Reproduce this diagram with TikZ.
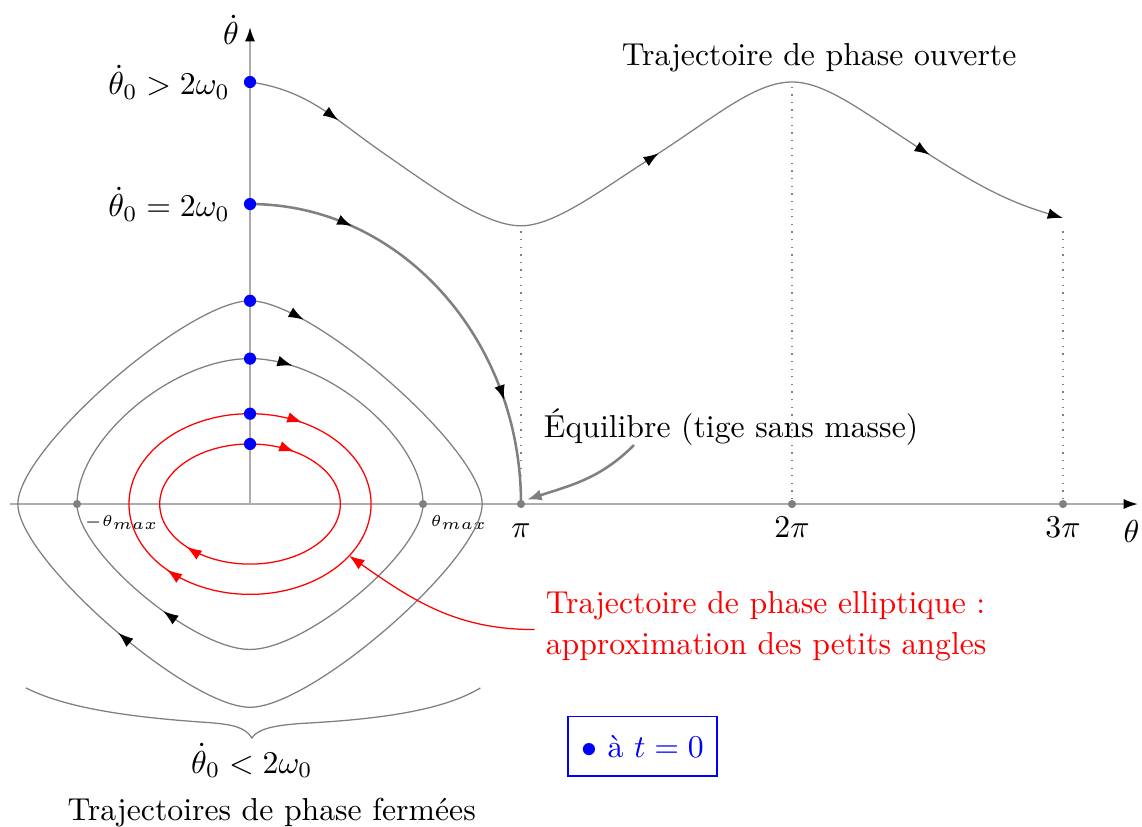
\documentclass[tikz,border=0pt]{standalone}
\usetikzlibrary{arrows.meta,decorations.markings,decorations.pathreplacing,positioning}

\tikzset{
  axe/.style={gray!65, semithick},
  traj/.style={gray, thin},
  separ/.style={gray, thick},
  guide/.style={gray, thin, dotted},
  repere/.style={circle, fill=gray, inner sep=0pt, minimum size=0.9mm},
  cinit/.style={circle, fill=blue, inner sep=0pt, minimum size=1.35mm},
  fleches/.style 2 args={postaction={decorate}, decoration={markings,
      mark=at position #1 with {\arrow{Latex[length=4.8pt,width=3.4pt,color=black]}},
      mark=at position #2 with {\arrow{Latex[length=4.8pt,width=3.4pt,color=black]}}}},
  flechesr/.style 2 args={postaction={decorate}, decoration={markings,
      mark=at position #1 with {\arrow{Latex[length=4.8pt,width=3.4pt]}},
      mark=at position #2 with {\arrow{Latex[length=4.8pt,width=3.4pt]}}}},
}

\begin{document}
\begin{tikzpicture}
	\useasboundingbox (-2.768,-3.565) rectangle (9.875,5.580);

	% axes
	\draw[axe, -{Latex[length=4.5pt,width=3.2pt,color=black]}] (-2.66,0) -- (9.83,0) coordinate (xfin);
	\draw[axe, -{Latex[length=4.5pt,width=3.2pt,color=black]}] (0,0) -- (0,5.28) coordinate (yfin);
	\node[left] (ylab) at (0,5.25) {$\dot\theta$};
	\node[anchor=base] (xlab) at (9.76,-0.43) {$\theta$};

	% reperes sur l'axe des angles
	\node[repere] (mtm) at (-1.915,0) {};
	\node[repere] (tm) at (1.915,0) {};
	\node[repere] (pi) at (3,0) {};
	\node[repere] (dpi) at (6,0) {};
	\node[repere] (tpi) at (9,0) {};
	\node[font=\tiny, anchor=west, inner sep=1.5pt] (lmtm) at (-1.89,-0.2) {$-\theta_{max}$};
	\node[font=\tiny, anchor=west, inner sep=1.5pt] (ltm) at (1.94,-0.2) {$\theta_{max}$};
	\node[anchor=base] (lpi) at (3,-0.37) {$\pi$};
	\node[anchor=base] (ldpi) at (6,-0.37) {$2\pi$};
	\node[anchor=base] (ltpi) at (9,-0.37) {$3\pi$};

	% conditions initiales
	\coordinate (v1) at (0,0.665);
	\coordinate (v2) at (0,1.0);
	\coordinate (v3) at (0,1.61);
	\coordinate (v4) at (0,2.25);
	\coordinate (v5) at (0,3.321);
	\coordinate (v6) at (0,4.672);

	% petits angles
	\draw[red, thin, flechesr={0.095}{0.64}] (v1) arc[start angle=90, end angle=-270, x radius=1, y radius=0.665];
	\draw[red, thin, flechesr={0.08}{0.632}] (v2) arc[start angle=90, end angle=-270, x radius=1.34, y radius=1];

	% trajectoires fermees
	\draw[traj, fleches={0.045}{0.6}] (v3)
		.. controls (0.86,1.61) and (1.915,0.72) .. (1.915,0)
		.. controls (1.915,-0.53) and (0.63,-1.61) .. (0,-1.61)
		.. controls (-0.63,-1.61) and (-1.915,-0.53) .. (-1.915,0)
		.. controls (-1.915,0.72) and (-0.86,1.61) .. (v3);
	\draw[traj, fleches={0.045}{0.62}] (v4)
		.. controls (0.69,2.25) and (2.57,0.61) .. (2.57,0)
		.. controls (2.57,-0.61) and (0.69,-2.25) .. (0,-2.25)
		.. controls (-0.69,-2.25) and (-2.57,-0.61) .. (-2.57,0)
		.. controls (-2.57,0.61) and (-0.69,2.25) .. (v4);

	% separatrice
	\draw[separ, fleches={0.235}{0.765}] (v5) arc[start angle=90, end angle=0, x radius=3, y radius=3.321];

	% trajectoire ouverte
	\draw[traj, -{Latex[length=4.8pt,width=3.4pt,color=black]}, postaction={decorate},
		decoration={markings,
			mark=at position 0.105 with {\arrow{Latex[length=4.8pt,width=3.4pt,color=black]}},
			mark=at position 0.505 with {\arrow{Latex[length=4.8pt,width=3.4pt,color=black]}},
			mark=at position 0.84 with {\arrow{Latex[length=4.8pt,width=3.4pt,color=black]}}}]
		(v6) to[out=-8,in=145.3] (1.47,3.89)
		to[out=-34.7,in=180,in looseness=0.6] (3,3.08) coordinate (m1)
		to[out=0,in=212.4,out looseness=0.6] (4.41,3.81)
		to[out=32.4,in=180,out looseness=1.2,in looseness=0.6] (6,4.672) coordinate (m2)
		to[out=0,in=147.4,out looseness=0.6,in looseness=1.2] (7.44,3.92)
		to[out=-32.6,in=163.4] (9,3.166);
	\coordinate (m3) at (9,3.02);
	\draw[guide] (pi) -- (m1);
	\draw[guide] (dpi) -- (m2);
	\draw[guide] (tpi) -- (m3);

	\foreach \v in {v1,v2,v3,v4,v5,v6}
		\node[cinit] (d\v) at (\v) {};
	\node[left=1mm of v6] (lab6) {$\dot\theta_0 > 2\omega_0$};
	\node[left=1mm of v5] (lab5) {$\dot\theta_0 = 2\omega_0$};
	\node[anchor=base] (ouv) at (6.3,4.86) {Trajectoire de phase ouverte};

	% equilibre
	\node[anchor=west] (equ) at (3.13,0.85) {Équilibre (tige sans masse)};
	\coordinate (equtip) at (3.07,0.05);
	\draw[gray, thick, -{Latex[length=4.5pt,width=3.6pt]}] ([xshift=1.12cm,yshift=1.3mm]equ.south west) to[out=225,in=18] (equtip);

	% approximation elliptique
	\node[red, anchor=west, align=left] (ell) at (3.15,-1.35) {Trajectoire de phase elliptique :\\[1pt]approximation des petits angles};
	\coordinate (elltip) at (-35:1.34cm and 1cm);
	\draw[red, thin, -{Latex[length=4.8pt,width=3.6pt]}] ([yshift=-0.4mm]ell.west) to[out=180,in=-35] (elltip);

	% accolade
	\coordinate (acg) at (-2.48,-2.036);
	\coordinate (acd) at (2.55,-2.036);
	\coordinate (acp) at (0.02,-2.59);
	\draw[traj] (acg) .. controls (-2.0,-2.28) and (-1.2,-2.37) .. (-0.45,-2.42)
		.. controls (-0.2,-2.44) and (-0.05,-2.47) .. (acp)
		.. controls (0.09,-2.48) and (0.3,-2.45) .. (0.55,-2.43)
		.. controls (1.3,-2.39) and (2.1,-2.31) .. (acd);
	\node[anchor=base] (cond) at (0.02,-2.98) {$\dot\theta_0 < 2\omega_0$};
	\node[anchor=base] (ferm) at (0.24,-3.50) {Trajectoires de phase fermées};

	% legende
	\node[draw=blue, text=blue, thin, minimum width=1.65cm, minimum height=0.66cm] (leg) at (4.345,-2.68) {$\bullet$ à $t=0$};
\end{tikzpicture}
\end{document}
